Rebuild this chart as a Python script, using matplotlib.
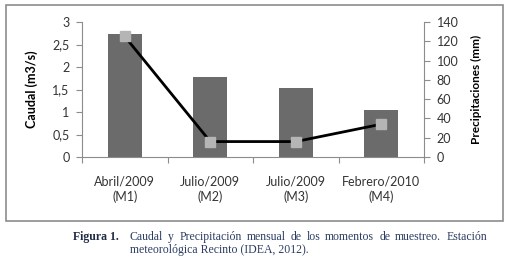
import matplotlib.pyplot as plt
from matplotlib.patches import Rectangle
from matplotlib.ticker import FuncFormatter

# data
categorias = ['Abril/2009\n(M1)', 'Julio/2009\n(M2)', 'Julio/2009\n(M3)', 'Febrero/2010\n(M4)']
caudal = [2.73, 1.78, 1.53, 1.05]
precipitacion = [125, 16, 16, 34]

plt.rcParams['font.family'] = ['Lato', 'DejaVu Sans']

W, H = 510, 261
fig = plt.figure(figsize=(W/100, H/100), dpi=100)
fig.patch.set_facecolor('white')

# outer chart frame
fig.patches.append(Rectangle((6/W, 1-221/H), (503-6)/W, (221-5)/H, transform=fig.transFigure,
                             fill=False, edgecolor='#8c8c8c', lw=1.2))

ax = fig.add_axes([82/W, 1-157/H, (424-82)/W, (157-22)/H])
x = range(len(categorias))
ax.bar(x, caudal, width=0.4, color='#6b6b6b')
ax.set_xlim(-0.5, 3.5)
ax.set_ylim(0, 3)
ax.set_yticks([0, 0.5, 1, 1.5, 2, 2.5, 3])
ax.yaxis.set_major_formatter(FuncFormatter(lambda v, p: ('%g' % v).replace('.', ',')))
ax.set_xticks([-0.5, 0.5, 1.5, 2.5, 3.5], minor=False)
ax.set_xticklabels([])
ax.set_xticks(list(x), minor=True)
ax.set_xticklabels(categorias, minor=True, linespacing=1.35)
ax.tick_params(axis='x', which='minor', length=0, pad=13, labelsize=9, colors='#333333')
ax.tick_params(axis='x', which='major', length=4, direction='out', color='#8c8c8c')
ax.tick_params(axis='y', length=4, color='#8c8c8c', labelsize=9, labelcolor='#333333', pad=5)
ax.set_ylabel('Caudal (m3/s)', fontsize=9, fontweight='bold', labelpad=10)
for s in ['top', 'right']:
    ax.spines[s].set_visible(False)
for s in ['left', 'bottom']:
    ax.spines[s].set_color('#8c8c8c')

ax2 = ax.twinx()
ax2.plot(x, precipitacion, color='black', lw=2, marker='s', markersize=7,
         markerfacecolor='#b5b5b5', markeredgecolor='#b5b5b5')
ax2.set_ylim(0, 140)
ax2.set_yticks(range(0, 141, 20))
ax2.tick_params(axis='y', length=4, color='#8c8c8c', labelsize=9, labelcolor='#333333', pad=5)
ax2.set_ylabel('Precipitaciones (mm)', fontsize=8.5, fontweight='bold', labelpad=9)
for s in ['top', 'left', 'bottom']:
    ax2.spines[s].set_visible(False)
ax2.spines['right'].set_color('#8c8c8c')

# caption, first line justified between x=130 and x=487
serif = 'Liberation Serif'
fig.text(73/W, 1-237/H, 'Figura 1.', fontsize=8.5, fontweight='bold', family=serif,
         color='#1f2a44', va='center')
palabras = 'Caudal y Precipitación mensual de los momentos de muestreo. Estación'.split()
r = fig.canvas.get_renderer()
objs = [fig.text(0, 1-237/H, w, fontsize=8.5, family=serif, color='#2c3d63', va='center')
        for w in palabras]
anchos = [o.get_window_extent(r).width for o in objs]
x0, x1 = 130, 487
gap = (x1 - x0 - sum(anchos)) / (len(objs) - 1)
pos = x0
for o, a in zip(objs, anchos):
    o.set_x(pos/W)
    pos += a + gap
fig.text(130/W, 1-250/H, 'meteorológica Recinto (IDEA, 2012).',
         fontsize=8.5, family=serif, color='#2c3d63', va='center')

fig.savefig('out.png', dpi=100)
